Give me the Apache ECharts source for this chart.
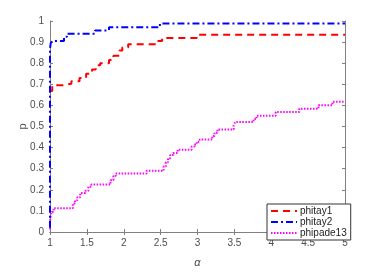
<!DOCTYPE html>
<html><head><meta charset="utf-8">
<script src="https://cdn.jsdelivr.net/npm/echarts@6/dist/echarts.min.js"></script>
<style>html,body{margin:0;padding:0;background:#fff}#c{width:382px;height:273px}</style>
</head><body><div id="c"></div>
<script>
var seriesNames = ['phitay1', 'phitay2', 'phipade13'];
var xTicks = [1, 1.5, 2, 2.5, 3, 3.5, 4, 4.5, 5];
var yTicks = [0, 0.1, 0.2, 0.3, 0.4, 0.5, 0.6, 0.7, 0.8, 0.9, 1];

var phitay1X = [1.0, 1.03, 1.18, 1.29, 1.4, 1.49, 1.57, 1.62, 1.68, 1.8, 1.86, 1.94, 1.98, 2.06, 2.45, 2.52, 2.99, 5.0];
var phitay1Y = [0.668, 0.695, 0.703, 0.715, 0.73, 0.75, 0.77, 0.79, 0.80, 0.815, 0.835, 0.86, 0.875, 0.89, 0.905, 0.92, 0.935, 0.935];

var phitay2X = [1.0, 1.0, 1.01, 1.03, 1.19, 1.23, 1.61, 1.8, 2.49, 5.0];
var phitay2Y = [0.02, 0.87, 0.895, 0.905, 0.925, 0.94, 0.955, 0.97, 0.988, 0.988];

var phipade13X = [1.0, 1.0, 1.01, 1.02, 1.05, 1.31, 1.34, 1.37, 1.41, 1.48, 1.52, 1.56, 1.82, 1.86, 1.89, 2.31, 2.54, 2.57, 2.6, 2.63, 2.67, 2.73, 2.92, 2.96, 2.99, 3.03, 3.2, 3.23, 3.27, 3.49, 3.51, 3.76, 3.8, 4.06, 4.38, 4.64, 4.83, 5.0];
var phipade13Y = [0.013, 0.05, 0.08, 0.095, 0.113, 0.135, 0.15, 0.165, 0.185, 0.195, 0.215, 0.225, 0.245, 0.265, 0.277, 0.29, 0.31, 0.33, 0.35, 0.365, 0.375, 0.39, 0.405, 0.415, 0.428, 0.438, 0.455, 0.47, 0.486, 0.505, 0.521, 0.535, 0.551, 0.569, 0.584, 0.601, 0.617, 0.617];

function pairs(xs, ys) { return xs.map(function (x, i) { return [x, ys[i]]; }); }

var axisColor = '#808080';
var labelColor = '#4d4d4d';
var font = 'Liberation Sans, Arial, Helvetica, sans-serif';

var chart = echarts.init(document.getElementById('c'), null, {renderer: 'canvas'});
chart.setOption({
  animation: false,
  backgroundColor: '#fff',
  grid: {left: 50, right: 37, top: 21, bottom: 30, containLabel: false},
  xAxis: [{
    type: 'value', min: xTicks[0], max: xTicks[xTicks.length - 1], interval: 0.5,
    position: 'bottom',
    axisLine: {show: true, lineStyle: {color: axisColor, width: 1}},
    axisTick: {show: true, inside: true, length: 3, lineStyle: {color: axisColor}},
    axisLabel: {color: labelColor, fontSize: 10, fontFamily: font, margin: 6},
    splitLine: {show: false},
    name: 'α', nameLocation: 'middle', nameGap: 25, nameMoveOverlap: false,
    nameTextStyle: {color: labelColor, fontSize: 11, fontFamily: font, fontStyle: 'italic'}
  }, {
    type: 'value', min: xTicks[0], max: xTicks[xTicks.length - 1], interval: 0.5,
    position: 'top',
    axisLine: {show: true, lineStyle: {color: axisColor, width: 1}},
    axisTick: {show: true, inside: true, length: 3, lineStyle: {color: axisColor}},
    axisLabel: {show: false},
    splitLine: {show: false}
  }],
  yAxis: [{
    type: 'value', min: yTicks[0], max: yTicks[yTicks.length - 1], interval: 0.1,
    position: 'left',
    axisLine: {show: true, lineStyle: {color: axisColor, width: 1}},
    axisTick: {show: true, inside: true, length: 3, lineStyle: {color: axisColor}},
    axisLabel: {color: labelColor, fontSize: 10, fontFamily: font, margin: 6},
    splitLine: {show: false},
    name: 'p', nameLocation: 'middle', nameGap: 22, nameRotate: 90, nameMoveOverlap: false,
    nameTextStyle: {color: labelColor, fontSize: 11, fontFamily: font}
  }, {
    type: 'value', min: yTicks[0], max: yTicks[yTicks.length - 1], interval: 0.1,
    position: 'right',
    axisLine: {show: true, lineStyle: {color: axisColor, width: 1}},
    axisTick: {show: true, inside: true, length: 3, lineStyle: {color: axisColor}},
    axisLabel: {show: false},
    splitLine: {show: false}
  }],
  legend: {
    data: seriesNames,
    orient: 'vertical',
    left: 267, top: 204,
    padding: [2, 4, 2, 3],
    itemGap: 1,
    itemWidth: 26, itemHeight: 10,
    backgroundColor: '#fff',
    borderColor: '#333', borderWidth: 1, borderRadius: 0,
    itemStyle: {opacity: 0},
    textStyle: {color: '#222', fontSize: 10, fontFamily: font, padding: [0, 0, 0, -2]}
  },
  series: [{
    name: seriesNames[0], type: 'line', step: 'end', showSymbol: false, symbol: 'none',
    data: pairs(phitay1X, phitay1Y),
    lineStyle: {color: '#ff0000', width: 2, type: [7, 5]},
    itemStyle: {color: '#ff0000'}, z: 3
  }, {
    name: seriesNames[1], type: 'line', step: 'end', showSymbol: false, symbol: 'none',
    data: pairs(phitay2X, phitay2Y),
    lineStyle: {color: '#0000ff', width: 2, type: [7, 3, 2, 3]},
    itemStyle: {color: '#0000ff'}, z: 4
  }, {
    name: seriesNames[2], type: 'line', step: 'end', showSymbol: false, symbol: 'none',
    data: pairs(phipade13X, phipade13Y),
    lineStyle: {color: '#ff00ff', width: 2, type: [1.5, 1.5]},
    itemStyle: {color: '#ff00ff'}, z: 2
  }]
});
</script>
</body></html>
